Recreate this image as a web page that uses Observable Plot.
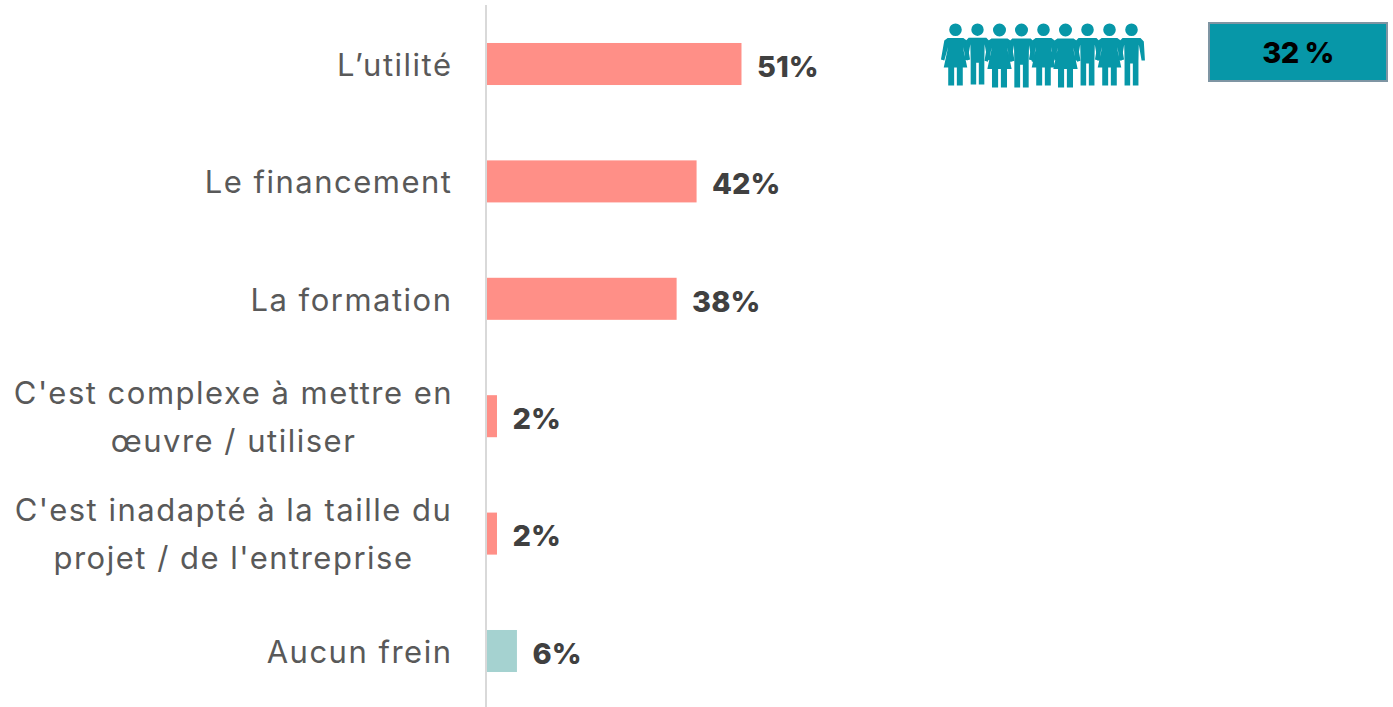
<!DOCTYPE html>
<html lang="fr"><head><meta charset="utf-8">
<script src="https://cdn.jsdelivr.net/npm/d3@7"></script>
<script src="https://cdn.jsdelivr.net/npm/@observablehq/plot@0.6"></script>
<style>
html,body{margin:0;padding:0;background:#fff;width:1393px;height:707px;overflow:hidden}
#root{position:relative;width:1393px;height:707px}
#root>svg,#picto>svg{display:block}
#picto{position:absolute;left:935px;top:23px}
#kpi{position:absolute;left:1208px;top:22px;width:180px;height:60px;box-sizing:border-box;background:#0797a8;border:2px solid #7f95a3;color:#000;font:800 29px Inter,sans-serif;display:flex;align-items:center;justify-content:center;letter-spacing:-.5px}
.lab text{letter-spacing:1.5px}
</style></head><body><div id="root"><div id="picto"></div><div id="kpi">32 %</div></div>
<script>
const categories = ["L’utilité","Le financement","La formation","C'est complexe à mettre en\nœuvre / utiliser","C'est inadapté à la taille du\nprojet / de l'entreprise","Aucun frein"];
const values = [51,42,38,2,2,6];
const groups = ["frein","frein","frein","frein","frein","aucun"];
const peopleKinds = ["f","m","f","m","f","f","m","f","m"];
const peopleHeights = [62,61,64,64,62,64,62,62,62];

const rows = categories.map((c,i)=>({category:c,value:values[i],group:groups[i]}));
const people = peopleKinds.map((k,i)=>({i,kind:k,h:peopleHeights[i]}));
const font = "Inter, 'Open Sans', sans-serif";
const isWrapped = d=>d.category.includes("\n");

const main = Plot.plot({
  width:1393,height:707,marginTop:5,marginBottom:0,marginLeft:0,marginRight:0,
  style:{background:"#fff",fontFamily:font},
  x:{domain:[0,100],range:[487,986],axis:null},
  y:{domain:categories,range:[5.3,709.7],paddingInner:0.642,paddingOuter:0.321,align:0.5,round:false,axis:null},
  color:{domain:["frein","aucun"],range:["#ff8f87","#a5d2d0"]},
  marks:[
    Plot.barX(rows,{x:"value",y:"category",fill:"group"}),
    Plot.ruleX([0],{stroke:"#d9d9d9",strokeWidth:2,dx:-1.5}),
    Plot.text(rows.filter(d=>!isWrapped(d)),{x:0,y:"category",text:"category",textAnchor:"end",dx:-35,dy:1.5,fontSize:31,fill:"#595959",className:"lab"}),
    Plot.text(rows.filter(isWrapped),{x:0,y:"category",text:"category",textAnchor:"middle",dx:-254,dy:-4.5,fontSize:31,lineHeight:1.55,fill:"#595959",className:"lab"}),
    Plot.text(rows,{x:"value",y:"category",text:d=>d.value+"%",textAnchor:"start",dx:15,dy:3,fontSize:29,fontWeight:800,fill:"#404040"})
  ]
});
document.getElementById("root").prepend(main);

function figure(kind){
  return {draw(c,l){
    const s=l/62, w=s*1.12, P=(pts)=>{pts.forEach((p,j)=>j?c.lineTo(p[0]*w,p[1]*s):c.moveTo(p[0]*w,p[1]*s));c.closePath();};
    c.moveTo(6.3*s,6.3*s);c.arc(0,6.3*s,6.3*s,0,2*Math.PI);c.closePath();
    if(kind==="m"){
      P([[-8,14.5],[8,14.5],[11,18],[12,37],[9,37],[6.5,21],[6.2,38],[6.2,62],[1.2,62],[1.2,40],[-1.2,40],[-1.2,62],[-6.2,62],[-6.2,38],[-6.5,21],[-9,37],[-12,37],[-11,18]]);
    } else {
      P([[-7,14.5],[7,14.5],[10,17],[13,36],[10,37],[6.5,23],[10.5,44],[6.5,44],[6.5,62],[1.2,62],[1.2,44],[-1.2,44],[-1.2,62],[-6.5,62],[-6.5,44],[-10.5,44],[-6.5,23],[-10,37],[-13,36],[-10,17]]);
    }
  }};
}
const picto = Plot.plot({
  width:220,height:66,margin:0,
  style:{background:"transparent"},
  x:{type:"point",domain:people.map(d=>d.i),range:[20,196],padding:0,axis:null},
  length:{type:"identity"},
  marks:["f","m"].map(k=>Plot.vector(people.filter(d=>d.kind===k),{
    x:"i",frameAnchor:"top",length:"h",anchor:"start",shape:figure(k),fill:"#0797a8",stroke:"none"}))
});
document.getElementById("picto").append(picto);
</script></body></html>
